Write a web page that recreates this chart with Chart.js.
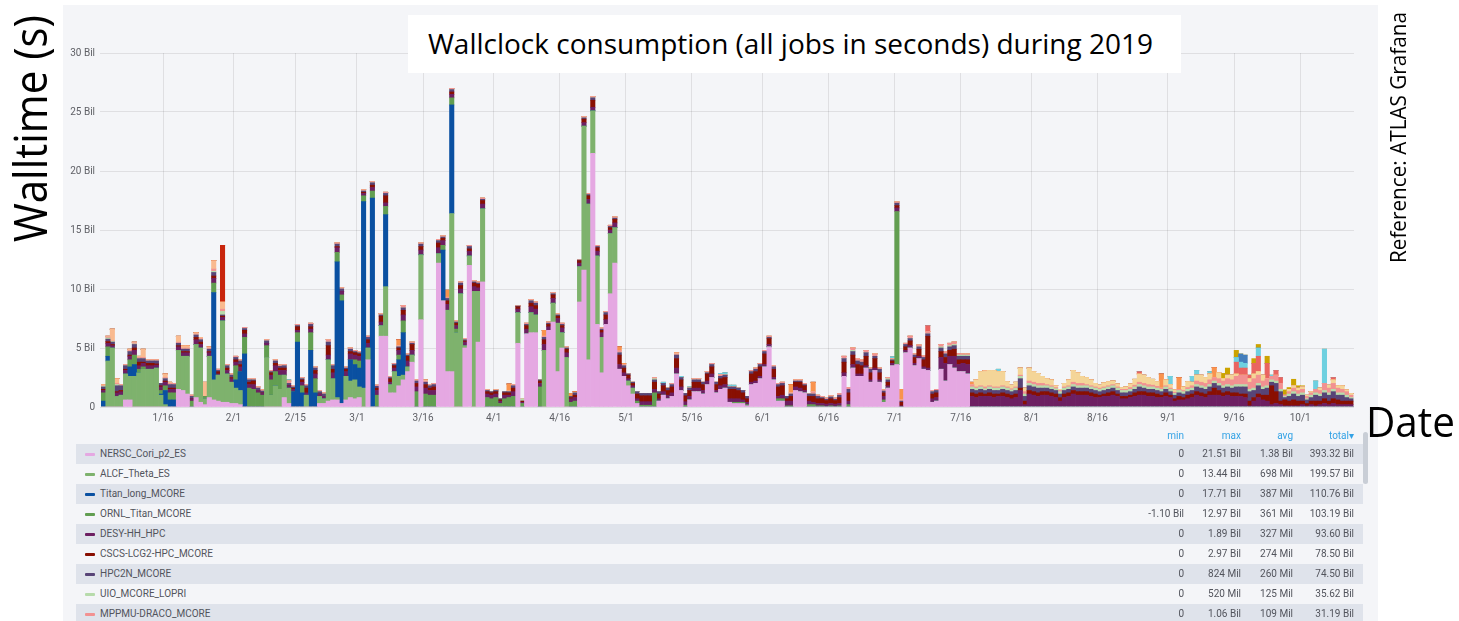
<!DOCTYPE html>
<html>
<head>
<meta charset="utf-8">
<script src="https://cdn.jsdelivr.net/npm/chart.js@4.4.0/dist/chart.umd.min.js"></script>
<style>
  html, body { margin:0; padding:0; width:1459px; height:621px; overflow:hidden; background:#ffffff; font-family: Roboto, "Liberation Sans", sans-serif; }
  #panel { position:absolute; left:63px; top:5px; width:1315px; height:616px; background:#f4f5f8; }
  #chartBox { position:absolute; left:0; top:0; width:1459px; height:432px; }
  #overlay { position:absolute; left:0; top:0; width:1459px; height:621px; pointer-events:none; }
  .row { position:absolute; left:76px; width:1287px; height:20px; }
  .row.shade { background:#dfe3eb; }
  .cell { position:absolute; top:0; height:20px; line-height:20px; font-size:10px; color:#52545c; white-space:nowrap; }
  .mark { position:absolute; left:9px; top:9px; width:10px; height:3px; border-radius:1px; }
  .hdr { position:absolute; top:428px; height:16px; line-height:16px; font-size:10px; color:#33a2e5; white-space:nowrap; text-align:right; }
  #scroll { position:absolute; left:1363px; top:432px; width:5px; height:52px; background:#c9ced6; border-radius:3px; }
</style>
</head>
<body>
<div id="panel"></div>
<div id="chartBox"><canvas id="c" width="1459" height="432"></canvas></div>
<div id="legend"></div>
<div id="scroll"></div>
<svg id="overlay" width="1459" height="621" xmlns="http://www.w3.org/2000/svg">
  <rect x="408" y="15" width="773" height="58" fill="#ffffff"/>
  <text id="title" x="428" y="54" font-family="Open Sans" font-size="28" fill="#000" textLength="725" lengthAdjust="spacingAndGlyphs">Wallclock consumption (all jobs in seconds) during 2019</text>
  <text x="47" y="242" transform="rotate(-90 47 242)" font-family="Open Sans" font-size="45" fill="#000" textLength="227" lengthAdjust="spacingAndGlyphs">Walltime (s)</text>
  <text x="1406" y="263" transform="rotate(-90 1406 263)" font-family="Open Sans" font-size="21" fill="#000" textLength="251" lengthAdjust="spacingAndGlyphs">Reference: ATLAS Grafana</text>
  <text x="1366" y="437" font-family="Open Sans" font-size="42" fill="#000" textLength="89" lengthAdjust="spacingAndGlyphs">Date</text>
</svg>
<script>
// ---------- DATA ----------
// One bar per day, from firstDate to lastDate (2019). Dense arrays start at firstDate.
const firstDate = '1/2';
const lastDate = '10/12';
const tickLabels = ['1/16','2/1','2/15','3/1','3/16','4/1','4/16','5/1','5/16','6/1','6/16','7/1','7/16','8/1','8/16','9/1','9/16','10/1'];
const yTicks = [0, 5, 10, 15, 20, 25, 30]; // Bil

// values in billions of seconds (Bil)
const nerscCori = [
0,0,0,0,0,0.6,0.6,0,0,0, 0,0,0,0,0,0,0,1.5,1.4,1.1, 0,0.8,0.4,0.2,0.8,0.6,0.5,0.4,0.4,0.3,
0.3,0.2,0,0,0,0,0,0,0,0, 0,0.8,0.3,0,0,0,0,0,0,0.3, 0.3,0.5,0.6,0.6,0.3,0.6,0.8,0.7,0.8,0,
4.0,0,0,6.0,6.0,1.2,1.2,1.8,2.3,3.0, 3.8,0,7.4,0,0,0,12.2,9.0,3.0,3.0, 0,0,5.0,12.0,0,5.5,10.6,0,0,0,
0,0,0,0,5.4,0,6.2,6.3,6.3,0, 0,6.5,7.2,3.0,5.0,0,0,0,8.9,11.6, 4.0,21.5,7.0,2.9,7.0,9.6,12.2,3.2,2.6,1.8,
1.1,0.3,0,0,0,0,0.5,1.0,0.7,0.9, 2.8,1.4,0,0.6,1.3,1.3,1.1,1.9,2.5,1.2, 1.5,1.6,0.4,0.3,0.3,0.3,0.1,1.9,2.0,2.4,
3.4,5.1,2.3,0.5,0.5,0,0,1.4,1.3,1.2, 0,0,0,0,0,0,0,0,2.6,0, 3.3,2.6,2.6,3.3,2.1,3.1,2.1,0.4,1.6,3.5,
3.6,0,4.6,5.0,3.5,4.1,3.2,3.1,0.4,0.5, 3.2,2.2,3.6,3.3,3.0,3.0,2.8,0,0,0
];
const alcfTheta = [
0,3.9,5.0,0.9,1.0,2.2,2.0,2.6,2.9,3.2, 3.2,3.2,3.3,1.0,0.2,0,0,3.3,2.9,3.2, 0,4.5,4.6,0.5,3.5,1.7,2.2,6.9,2.4,1.8,
1.3,1.2,0,0,0,0,0,4.2,1.0,1.8, 1.5,1.9,1.3,0,0,0,1.0,0,0,0.6, 0.4,3.5,1.8,0.2,0,2.0,1.4,1.6,0.9,1.6,
1.0,0,0,0.9,4.2,0.7,1.8,0.8,0.4,0.4, 0.6,0,5.5,0,0,0,0.8,0,5.2,13.4, 6.3,9.6,0.2,0.8,9.8,4.3,6.2,0,0,0,
0,0,0,0,2.6,0,0,1.7,1.5,0, 4.8,0,1.6,4.1,1.3,4.2,0,0,3.0,12.2, 13.2,3.6,5.8,3.0,0,5.1,3.0,0,0,0.4,
0.5
];
// sparse series: [day of year (Jan 1 = 0), value]
const titanLong = [[1,0.5],[2,0.4],[7,0.8],[8,1.0],[14,0.1],[15,1.2],[16,0.6],[17,0.6],[26,7.4],[31,0.7],[32,1.6],[33,4.5],[44,1.3],[45,5.5],[46,1.2],[48,4.8],[49,1.2],[54,11.5],[55,8.7],[57,1.8],[58,1.3],[59,1.6],[60,15.8],[62,17.7],[65,6.1],[68,1.4],[69,3.6],[78,4.3],[80,9.2]];
const ornlTitan = [[1,0.7],[2,0.8],[7,0.6],[8,0.8],[9,0.3],[10,0.2],[14,0.3],[15,0.4],[16,0.6],[17,0.6],[21,0.5],[24,0.2],[26,0.8],[31,1.2],[33,1.4],[34,1.6],[35,1.5],[36,1.2],[37,1.0],[38,1.0],[39,1.3],[40,1.2],[41,1.2],[45,0.8],[46,0.6],[48,1.5],[49,1.2],[54,0.8],[55,0.5],[58,0.4],[59,0.6],[60,0.5],[62,0.6],[63,1.0],[65,0.7],[68,0.4],[69,1.0],[72,1.3],[74,1.1],[75,1.0],[76,1.0],[78,0.4],[80,0.6],[81,0.3],[88,0.8],[89,0.7],[90,0.8],[91,0.3],[92,0.7],[93,0.8],[94,0.9],[96,0.3],[100,1.7],[107,0.4],[108,0.5],[122,0.2],[123,0.15],[124,0.15],[125,0.15],[126,1.2],[133,0.15],[144,0.1],[145,0.1],[146,0.1],[147,0.1],[154,0.2],[155,0.2],[156,0.1],[157,0.1],[161,0.2],[162,0.2],[163,0.1],[164,0.1],[165,0.05],[166,0.1],[167,0.05],[168,0.1],[170,0.2],[178,0.2],[181,12.97]];
const desyHH = [
0.2,0.3,0.2,0.3,0.3,0.3,0.3,0.4,0.3,0.3, 0.3,0.3,0.25,0.3,0.3,0.3,0.3,0.3,0.3,0.3, 0.2,0.4,0.3,0,0.3,0.4,0.1,0.3,0.3,0.3,
0.3,0.4,0.3,0.3,0.4,0.2,0.2,0.2,0.4,0.5, 0.4,0.4,0.2,0.2,0.2,0.3,0.2,0.3,0.4,0.2, 0.2,0.4,0.5,0.4,0.3,0.4,0.5,0.4,0.4,0.2,
0.4,0.3,0.4,0.3,0.3,0.2,0.3,0.4,0.5,0.5, 0.4,0.4,0.4,0.5,0.4,0.4,0.5,0.4,0.5,0.3, 0.3,0.4,0.3,0.4,0.4,0.3,0.4,0.3,0.3,0.3,
0.2,0.3,0.2,0.4,0.3,0.1,0.4,0.5,0.5,0.3, 0.5,0.3,0.4,0.4,0.4,0.4,0.3,0.3,0.3,0.3, 0.4,0.3,0.4,0.4,0.4,0.3,0.4,0.4,0.3,0.2,
0.2,0.2,0.3,0.3,0.3,0.3,0.2,0.3,0.3,0.3, 0.5,0.3,0.3,0.3,0.3,0.3,0.3,0.3,0.3,0.2, 0.3,0.3,0.3,0.3,0.3,0.2,0.2,0.2,0.2,0.2,
0.2,0.2,0.2,0.2,0.3,0.4,0.4,0.3,0.3,0.2, 0.3,0.2,0.2,0.2,0.2,0.2,0.2,0.2,0.3,0.3, 0.3,0.2,0.2,0.2,0.2,0.2,0.2,0.3,0.2,0.2,
0.3,0.1,0.2,0.2,0.2,0.2,0.2,0.2,0.3,0.3, 1.0,1.5,0.7,1.0,0.6,0.7,0.8,0.9,0.8,0.9, 0.9,0.9,0.8,0.9,0.9,0.8,0.7,0.8,1.4,0.2,
1.1,1.0,0.9,1.0,1.0,0.9,0.8,0.5,0.8,0.9, 1.1,1.0,1.0,1.0,0.9,0.8,0.8,0.9,0.9,1.0, 0.9,0.7,0.7,0.8,0.9,1.0,1.0,0.9,0.9,0.8,
0.8,0.9,0.8,0.5,0.6,0.6,0.7,0.8,1.0,0.9, 0.8,1.0,1.0,1.0,0.9,1.0,0.9,0.9,0.9,0.8, 0.1,0.5,0.8,0.6,0.5,0.2,0.3,0.2,0.1,0.1,
0.1,0.1,0.2,0.1,0.2,0.1,0.2,0.3,0.2,0.3, 0.2,0.2,0.2,0.2
];
const cscsLcg2 = [
0.1,0.15,0.1,0.1,0.1,0.1,0.1,0.2,0.3,0.1, 0.2,0.2,0.1,0.1,0.1,0.1,0.1,0.1,0.1,0.1, 0,0.2,0.2,0,0.1,0.2,0.2,0.1,0.2,0.1,
0.2,0.2,0.3,0.2,0.3,0,0,0,0.2,0.2, 0.2,0.2,0,0.1,0.3,0.2,0.4,0.2,0.3,0, 0,0.8,0.3,0.1,0,0.2,0.2,0.2,0.2,0.1,
0.3,0.2,0.2,0.5,0.6,0.3,0.2,0.2,0.4,0.4, 0.5,0.3,0.3,0.3,0.2,0.3,0.4,0.2,0.3,0.2, 0.2,0.3,0.1,0.2,0.3,0.3,0.3,0.2,0.2,0.2,
0.1,0.2,0.2,0.3,0.2,0.1,0.3,0.3,0.3,0.2, 0.4,0.2,0.3,0.2,0.2,0.3,0.1,0.2,0.2,0.3, 0.3,0.6,0.3,0.2,0.4,0.2,0.3,0.8,0.4,0.3,
0.2,0.4,0.5,0.5,0.5,0.6,0.4,0.5,0.4,0.5, 0.8,0.6,0.5,0.5,0.5,0.5,0.5,0.6,0.6,0.5, 0.6,0.6,0.8,0.8,0.7,0.6,0.3,0.7,0.8,0.8,
0.9,0.5,0.7,0.8,0.8,0.2,0.4,0.4,0.5,0.4, 0.4,0.5,0.4,0.4,0.3,0.4,0.3,0.5,0.9,0.7, 0.8,0.8,0.7,0.8,0.6,0.8,0.6,0.3,0.3,0.2,
0.2,0.3,0.3,0.4,0.5,0.6,0.6,2.7,0.4,0.4, 0.5,0.5,0.5,0.6,0.4,0.3,0.4,0.3,0.3,0.3, 0.2,0.3,0.3,0.2,0.3,0.3,0.3,0.3,0.2,0.3,
0.3,0.3,0.3,0.3,0.3,0.3,0.3,0.3,0.3,0.3, 0.3,0.3,0.3,0.3,0.3,0.3,0.2,0.2,0.3,0.3, 0.2,0.2,0.2,0.2,0.3,0.3,0.3,0.3,0.3,0.3,
0.2,0.3,0.2,0.2,0.3,0.2,0.3,0.3,0.3,0.3, 0.3,0.3,0.6,0.4,0.3,0.3,0.3,0.3,0.2,0.3, 0.4,0.3,0.3,0.4,0.5,1.6,1.0,0.3,0.5,0.4,
0.5,0.4,0.3,0.2,0.3,0.4,0.3,0.4,0.3,0.4, 0.4,0.3,0.3,0.3
];
const hpc2n = [
0.2,0.2,0.2,0.5,0.4,0.3,0.3,0.3,0.3,0.3, 0.2,0.2,0.25,0.2,0.2,0.3,0.3,0.2,0.2,0.2, 0.2,0.2,0.2,0,0.2,0.3,0.1,0.1,0.2,0.2,
0.2,0.3,0.15,0.2,0.1,0.2,0.15,0.2,0.1,0.2, 0.15,0.2,0.2,0.1,0.1,0.1,0.2,0.2,0.2,0.2, 0.2,0.3,0.3,0.2,0.2,0.1,0.2,0.1,0.1,0.1,
0.2,0.2,0.15,0.1,0.2,0.1,0.1,0.1,0.2,0.1, 0.1,0.2,0.2,0.2,0.2,0.2,0.2,0.1,0.2,0.2, 0.1,0.2,0.1,0.2,0.1,0.1,0.1,0.1,0.1,0.1,
0.1,0.1,0.1,0.2,0.05,0,0.1,0.2,0.2,0.1, 0.2,0.1,0.1,0.1,0.1,0.1,0.1,0.2,0.05,0.1, 0.1,0.2,0.1,0.1,0.2,0.1,0.1,0.2,0.2,0.1,
0.1,0.2,0.2,0.2,0.2,0.2,0.2,0.2,0.2,0.2, 0.3,0.2,0.2,0.2,0.2,0.2,0.2,0.1,0.2,0.2, 0.2,0.2,0.2,0.2,0.2,0.2,0.2,0.2,0.2,0.2,
0.2,0.1,0.2,0.2,0.2,0.2,0.2,0.1,0.1,0.1, 0.2,0.2,0.2,0.1,0.1,0.15,0.1,0.2,0.3,0.3, 0.3,0.3,0.3,0.3,0.3,0.2,0.3,0.15,0.2,0.1,
0.2,0.1,0.2,0.2,0.2,0.2,0.2,0.2,0.2,0.2, 0.3,0.3,0.3,0.3,0.3,0.3,0.3,0.3,0.3,0.3, 0.3,0.3,0.3,0.3,0.3,0.3,0.3,0.3,0.8,0.4,
0.4,0.4,0.4,0.3,0.3,0.3,0.3,0.3,0.3,0.3, 0.3,0.3,0.3,0.3,0.3,0.3,0.3,0.3,0.3,0.3, 0.3,0.3,0.3,0.3,0.3,0.4,0.3,0.3,0.3,0.3,
0.3,0.3,0.3,0.3,0.3,0.3,0.3,0.3,0.4,0.4, 0.4,0.4,0.4,0.4,0.4,0.4,0.4,0.5,0.6,0.6, 0.8,0.6,0.7,0.5,0.6,0.3,0.7,0.8,0.2,0.4,
0.5,0.4,0.5,0.3,0.3,0.5,0.4,0.5,0.5,0.6, 0.4,0.5,0.3,0.2
];
const uioLopri = [
0.05,0.1,0.05,0.1,0,0,0,0.05,0,0, 0,0,0,0,0,0,0,0,0,0, 0,0,0,0,0,0.1,0,0.3,0,0,
0,0,0,0,0,0,0,0,0,0, 0,0,0,0,0,0,0,0,0,0, 0,0,0,0,0,0,0,0,0,0,
0,0,0,0,0,0,0,0,0,0, 0,0,0,0,0,0,0,0,0,0, 0,0,0,0,0,0,0,0,0,0,
0,0,0,0,0,0.2,0,0,0,0, 0,0,0,0,0,0,0,0,0,0, 0,0,0,0,0,0,0,0,0,0,
0,0,0,0,0,0.1,0,0,0,0, 0,0,0,0,0,0,0,0,0,0, 0,0,0,0,0,0,0,0,0,0,
0,0,0,0,0,0,0,0,0,0, 0,0,0,0,0,0,0,0,0,0, 0.1,0,0,0,0,0,0,0,0.1,0,
0,0,0,0,0,0,0,0,0,0, 0.1,0,0.1,0.1,0.1,0.1,0.1,0.2,0.2,0.2, 0.15,0.2,0.2,0.2,0.2,0.2,0.15,0.2,0.2,0.2,
0.2,0.2,0.2,0.2,0.2,0.2,0.15,0.2,0.2,0.2, 0.2,0.2,0.2,0.2,0.2,0.2,0.2,0.2,0.2,0.2, 0.2,0.2,0.2,0.2,0.2,0.2,0.2,0.2,0.2,0.2,
0.2,0.2,0.2,0.15,0.2,0.2,0.2,0.2,0.2,0.2, 0.2,0.2,0.2,0.2,0.2,0.2,0.2,0.2,0.2,0.2, 0.2,0.2,0.2,0.2,0.2,0.2,0.2,0.2,0.1,0.2,
0.2,0.2,0.2,0.1,0.2,0.2,0.2,0.2,0.2,0.2, 0.2,0.2,0.2,0.1
];
const mppmuDraco = [
0.05,0.1,0.05,0.1,0.1,0.1,0.1,0.1,0.1,0.1, 0.1,0.1,0.1,0,0.1,0.1,0.1,0.1,0.1,0.1, 0.1,0.1,0.1,0,0.1,0.2,0.1,0.2,0.1,0.1,
0.1,0.1,0.1,0.1,0.1,0.1,0.1,0.1,0.1,0.1, 0.1,0.1,0.2,0.1,0.1,0.1,0.1,0.1,0.1,0.1, 0.1,0.2,0.1,0.1,0.1,0.1,0.1,0.1,0.1,0.1,
0.1,0.1,0.1,0.1,0.1,0.1,0.1,0.1,0.2,0.1, 0.1,0.1,0.1,0.1,0.1,0.1,0.1,0.1,0.1,0.1, 0.1,0.1,0.1,0.1,0.1,0.1,0.1,0.05,0,0.05,
0,0,0.05,0.1,0.05,0,0.1,0.1,0.1,0, 0.1,0.1,0.1,0.1,0.1,0.1,0,0,0.05,0.1, 0.1,0.1,0.1,0.1,0.1,0.1,0.1,0.2,0.1,0.05,
0,0,0,0,0,0.1,0,0,0,0.1, 0.1,0,0,0,0.1,0.1,0,0.1,0.1,0, 0.15,0,0,0,0,0,0,0.1,0.1,0.1,
0.1,0.1,0.1,0.1,0.1,0,0.1,0.1,0.1,0.1, 0,0.2,0.1,0.1,0.1,0.1,0.1,0.15,0.2,0.15, 0.2,0.2,0.2,0.2,0.1,0.2,0.1,0.1,0.1,0.1,
0.1,0.1,0.1,0.2,0.1,0.15,0.15,0.2,0.1,0.1, 0.2,0.2,0.2,0.2,0.15,0.1,0.1,0.2,0.1,0.1, 0.15,0.1,0.1,0.1,0.1,0.1,0.1,0.1,0.1,0.2,
0.2,0.2,0.2,0.2,0.1,0.1,0.1,0.1,0.1,0.1, 0.2,0.2,0.2,0.1,0.1,0.1,0.1,0.1,0.1,0.1, 0.1,0.1,0.1,0.15,0.15,0.2,0.2,0.2,0.15,0.15,
0.1,0.1,0.1,0.1,0.1,0.1,0.15,0.2,0.3,0.3, 0.3,0.4,0.3,0.4,0.4,0.5,0.5,0.7,0.8,0.8, 0.6,0.8,0.7,0.5,0.6,0.3,0.5,0.5,0.1,0.2,
0.3,0.3,0.3,0.2,0.2,0.3,0.3,0.6,0.4,0.5, 0.4,0.3,0.3,0.2
];
// further (smaller) sites whose legend rows are scrolled out of view: [day of year, value]
const otherYellow = [[199,0.6],[200,1.2],[201,1.3],[202,1.3],[203,1.4],[204,1.3],[205,1.2],[206,0.45],[207,0.3],[208,0.4],[209,0.6],[210,0.3],[211,1.1],[212,0.9],[213,0.85],[214,0.6],[215,0.5],[216,0.5],[217,0.15],[218,0.1],[219,0.3],[220,0.5],[221,1.0],[222,0.9],[223,0.6],[224,0.6],[225,0.5],[226,0.3],[227,0.25],[228,0.35],[229,0.35],[230,0.3],[231,0.25],[232,0.15],[233,0.2],[234,0.3],[235,0.5],[236,0.7],[237,0.7],[238,0.6],[239,0.5],[240,0.4],[242,0.5],[243,0.3],[244,0.2],[246,0.3],[247,0.5],[248,0.3],[249,0.5],[250,0.6],[251,0.5],[252,0.5],[254,0.5],[255,0.2],[256,0.3],[257,0.4],[258,0.2],[261,0.3],[262,0.4],[263,0.3],[264,0.5],[270,0.2],[271,0.2],[272,0.2],[273,0.2],[274,0.1],[275,0.1],[277,0.2],[279,0.25],[280,0.3],[281,0.2],[282,0.3],[283,0.15],[284,0.15]];
const otherPeach = [[1,0.1],[2,0.05],[3,1.0],[4,0.4],[7,0.1],[8,0.05],[9,0.1],[10,0.7],[15,0.3],[16,0.1],[18,0.5],[19,0.2],[20,0.2],[22,0.1],[23,0.1],[24,1.2],[25,0.1],[26,0.7],[28,0.6],[74,0.1],[131,0.1],[201,0.1]];
const otherOrange = [[68,0.5],[79,0.6],[93,0.6],[101,0.5],[107,0.25],[108,0.1],[118,0.3],[119,0.1],[157,0.7],[162,0.8],[182,0.9],[198,0.2],[241,1.2],[245,1.0],[253,0.85]];
const otherRed = [[28,4.8]];
const otherCoral = [[188,0.5],[236,0.2],[258,1.0],[259,0.6],[260,0.6],[261,0.3],[262,0.9],[263,1.3],[265,1.3],[267,0.4],[268,0.5],[280,0.2]];
const otherCyan = [[43,0.1],[128,0.1],[132,0.1],[134,0.1],[141,0.1],[142,0.2],[143,0.15],[144,0.15],[180,0.15],[204,0.2],[243,0.7],[248,0.5],[249,0.4],[252,0.2],[258,0.4],[259,0.5],[260,0.4],[263,0.7],[266,0.1],[276,0.7],[278,2.9]];
const otherBlue = [[259,0.7],[260,0.7]];
const otherGold = [[255,0.45],[256,0.6],[258,0.6],[262,0.4],[263,0.3],[265,0.6],[269,0.45],[270,0.15],[271,0.55],[272,0.2],[273,0.1]];

// legend table (as printed by the dashboard)
const legendNames = ['NERSC_Cori_p2_ES','ALCF_Theta_ES','Titan_long_MCORE','ORNL_Titan_MCORE','DESY-HH_HPC','CSCS-LCG2-HPC_MCORE','HPC2N_MCORE','UIO_MCORE_LOPRI','MPPMU-DRACO_MCORE'];
const legendMin = ['0','0','0','-1.10 Bil','0','0','0','0','0'];
const legendMax = ['21.51 Bil','13.44 Bil','17.71 Bil','12.97 Bil','1.89 Bil','2.97 Bil','824 Mil','520 Mil','1.06 Bil'];
const legendAvg = ['1.38 Bil','698 Mil','387 Mil','361 Mil','327 Mil','274 Mil','260 Mil','125 Mil','109 Mil'];
const legendTotal = ['393.32 Bil','199.57 Bil','110.76 Bil','103.19 Bil','93.60 Bil','78.50 Bil','74.50 Bil','35.62 Bil','31.19 Bil'];

// ---------- BUILD ----------
function dayOfYear(s) {
  const [m, d] = s.split('/').map(Number);
  return Math.round((Date.UTC(2019, m - 1, d) - Date.UTC(2019, 0, 1)) / 86400000);
}
const days = [];
for (let d = dayOfYear(firstDate); d <= dayOfYear(lastDate); d++) days.push(d);
const xPos = days.map(d => d + 0.5);           // bar occupies the whole day
const dense = arr => days.map((d, i) => arr[i] || 0);
const sparse = pairs => { const m = new Map(pairs); return days.map(d => m.get(d) || 0); };

const series = [
  { label: legendNames[0], data: dense(nerscCori), color: '#e5a8e2' },
  { label: legendNames[1], data: dense(alcfTheta), color: '#7eb26d' },
  { label: legendNames[2], data: sparse(titanLong), color: '#0a50a1' },
  { label: legendNames[3], data: sparse(ornlTitan), color: '#629e51' },
  { label: legendNames[4], data: dense(desyHH), color: '#6d1f62' },
  { label: legendNames[5], data: dense(cscsLcg2), color: '#890f02' },
  { label: legendNames[6], data: dense(hpc2n), color: '#584477' },
  { label: legendNames[7], data: dense(uioLopri), color: '#b7dbab' },
  { label: legendNames[8], data: dense(mppmuDraco), color: '#f29191' },
  { label: 'other-1', data: sparse(otherYellow), color: '#f4d598' },
  { label: 'other-2', data: sparse(otherPeach), color: '#f9ba8f' },
  { label: 'other-3', data: sparse(otherOrange), color: '#f9934e' },
  { label: 'other-4', data: sparse(otherRed), color: '#c8250c' },
  { label: 'other-5', data: sparse(otherCoral), color: '#ea6460' },
  { label: 'other-6', data: sparse(otherCyan), color: '#6ed0e0' },
  { label: 'other-7', data: sparse(otherBlue), color: '#447ebc' },
  { label: 'other-8', data: sparse(otherGold), color: '#cca300' }
];

Chart.defaults.font.family = 'Roboto, "Liberation Sans", sans-serif';
Chart.defaults.font.size = 10;

new Chart(document.getElementById('c'), {
  type: 'bar',
  data: {
    labels: xPos,
    datasets: series.map(s => ({
      label: s.label, data: s.data, backgroundColor: s.color, borderWidth: 0,
      barPercentage: 1.0, categoryPercentage: 1.0
    }))
  },
  options: {
    responsive: false, animation: false, maintainAspectRatio: false,
    layout: { padding: { left: 60, right: 105, top: 53, bottom: 0 } },
    plugins: { legend: { display: false }, tooltip: { enabled: false } },
    scales: {
      x: {
        type: 'linear', stacked: true, offset: false, min: 0.7, max: 285.2,
        afterBuildTicks: sc => { sc.ticks = tickLabels.map(t => ({ value: dayOfYear(t) })); },
        afterFit: sc => { sc.height = 25; },
        ticks: { autoSkip: false, maxRotation: 0, color: '#5f6066', padding: 5,
                 callback: (v, i) => tickLabels[i] },
        grid: { color: 'rgba(0,0,0,0.085)', drawTicks: false, offset: false },
        border: { display: false }
      },
      y: {
        stacked: true, min: yTicks[0], max: yTicks[yTicks.length - 1],
        afterBuildTicks: sc => { sc.ticks = yTicks.map(v => ({ value: v })); },
        afterFit: sc => { sc.width = 40; },
        ticks: { color: '#5f6066', padding: 5, callback: v => v === 0 ? '0' : v + ' Bil' },
        grid: { color: 'rgba(0,0,0,0.085)', drawTicks: false },
        border: { display: false }
      }
    }
  }
});

// ---------- LEGEND TABLE ----------
const lg = document.getElementById('legend');
const colRight = { min: 275, max: 218, avg: 166, total: 105 };  // distance from page right edge
const hdrs = [['min', colRight.min], ['max', colRight.max], ['avg', colRight.avg], ['total\u25BE', colRight.total]];
hdrs.forEach(([t, r]) => {
  const h = document.createElement('div');
  h.className = 'hdr'; h.style.right = r + 'px'; h.textContent = t;
  lg.appendChild(h);
});
legendNames.forEach((name, i) => {
  const row = document.createElement('div');
  row.className = 'row' + (i % 2 === 0 ? ' shade' : '');
  row.style.top = (444 + 20 * i) + 'px';
  const mk = document.createElement('div');
  mk.className = 'mark'; mk.style.background = series[i].color;
  row.appendChild(mk);
  const nm = document.createElement('div');
  nm.className = 'cell'; nm.style.left = '24px'; nm.textContent = name;
  row.appendChild(nm);
  [[legendMin[i], colRight.min], [legendMax[i], colRight.max], [legendAvg[i], colRight.avg], [legendTotal[i], colRight.total]].forEach(([t, r]) => {
    const c = document.createElement('div');
    c.className = 'cell'; c.style.right = (r - (1459 - 76 - 1287)) + 'px'; c.style.textAlign = 'right';
    c.textContent = t;
    row.appendChild(c);
  });
  lg.appendChild(row);
});
</script>
</body>
</html>
